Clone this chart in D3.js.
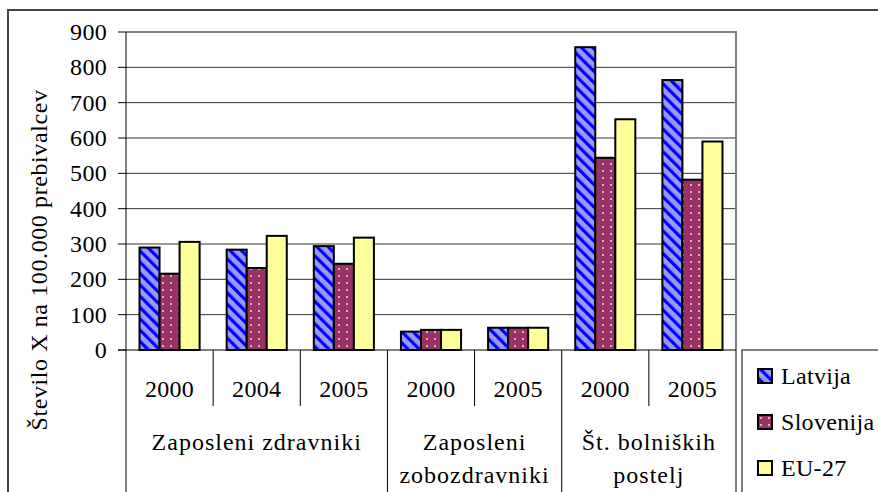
<!DOCTYPE html>
<html><head><meta charset="utf-8"><script src="https://cdn.jsdelivr.net/npm/d3@7"></script></head>
<body style="margin:0">
<script>
const years = ["2000", "2004", "2005", "2000", "2005", "2000", "2005"];
const groupNames = [["Zaposleni zdravniki"], ["Zaposleni", "zobozdravniki"], ["Št. bolniških", "postelj"]];
const groupSizes = [3, 2, 2];
const seriesNames = ["Latvija", "Slovenija", "EU-27"];
const latvija = [290, 284, 294, 52, 63, 857, 764];
const slovenija = [216, 232, 244, 57, 63, 544, 482];
const eu27 = [306, 323, 318, 57, 63, 653, 590];
const yTicks = [0, 100, 200, 300, 400, 500, 600, 700, 800, 900];

const width = 878, height = 492;
const plot = { left: 126, right: 736, top: 32, bottom: 350 };
const fontSize = 24;

const svg = d3.select("body").append("svg").attr("width", width).attr("height", height);

function label(sel, spacing = 0) {
  return sel
    .attr("font-size", fontSize)
    .attr("font-family", "Liberation Serif")
    .style("font-family", `'Liberation Serif'`)
    .attr("letter-spacing", spacing)
    .attr("fill", "#000");
}

// patterns
const defs = svg.append("defs");
const stripes = defs
  .append("pattern")
  .attr("id", "stripes")
  .attr("patternUnits", "userSpaceOnUse")
  .attr("width", 8)
  .attr("height", 8)
  .attr("patternTransform", "rotate(-45)");
stripes.append("rect").attr("width", 8).attr("height", 8).attr("fill", "#9999ff");
stripes.append("rect").attr("width", 3.2).attr("height", 8).attr("fill", "#0000ff");

const dots = defs
  .append("pattern")
  .attr("id", "dots")
  .attr("patternUnits", "userSpaceOnUse")
  .attr("width", 8)
  .attr("height", 7);
dots.append("rect").attr("width", 8).attr("height", 7).attr("fill", "#993366");
dots.append("circle").attr("cx", 3).attr("cy", 3).attr("r", 1).attr("fill", "#f2dbe6");

const fills = ["url(#stripes)", "url(#dots)", "#ffff99"];

// outer frame
svg
  .append("path")
  .attr("d", `M8,${height + 5}V10H${width + 5}`)
  .attr("fill", "none")
  .attr("stroke", "#444")
  .attr("stroke-width", 2);

const x = d3.scaleBand().domain(d3.range(years.length)).range([plot.left, plot.right]);
const xs = d3
  .scaleBand()
  .domain(seriesNames)
  .range([0, x.bandwidth()])
  .paddingInner(0)
  .paddingOuter(0.675);
const y = d3.scaleLinear().domain([0, 900]).range([plot.bottom, plot.top]);

// gridlines
svg
  .append("g")
  .selectAll("line")
  .data(yTicks.slice(1, -1))
  .join("line")
  .attr("x1", plot.left)
  .attr("x2", plot.right)
  .attr("y1", (d) => y(d))
  .attr("y2", (d) => y(d))
  .attr("stroke", "#333")
  .attr("stroke-width", 1);

// plot border top/right
svg
  .append("path")
  .attr("d", `M${plot.left},${y(900)}H${plot.right}V${height + 5}`)
  .attr("fill", "none")
  .attr("stroke", "#808080")
  .attr("stroke-width", 2);

// y axis ticks
svg
  .append("g")
  .selectAll("line")
  .data(yTicks)
  .join("line")
  .attr("x1", plot.left - 8)
  .attr("x2", plot.left)
  .attr("y1", (d) => y(d))
  .attr("y2", (d) => y(d))
  .attr("stroke", "#000");
svg
  .append("g")
  .selectAll("text")
  .data(yTicks)
  .join("text")
  .attr("x", plot.left - 19)
  .attr("y", (d) => y(d) + 8)
  .attr("text-anchor", "end")
  .call(label, 0.3)
  .text((d) => d);

svg
  .append("line")
  .attr("x1", plot.left)
  .attr("x2", plot.left)
  .attr("y1", plot.top)
  .attr("y2", height + 5)
  .attr("stroke", "#000");

// bars
const series = [latvija, slovenija, eu27];
series.forEach((vals, s) => {
  svg
    .append("g")
    .selectAll("rect")
    .data(vals)
    .join("rect")
    .attr("x", (d, i) => x(i) + xs(seriesNames[s]))
    .attr("y", (d) => y(d))
    .attr("width", xs.bandwidth())
    .attr("height", (d) => y(0) - y(d))
    .attr("fill", fills[s])
    .attr("stroke", "#000")
    .attr("stroke-width", 2);
});

// baseline
svg
  .append("line")
  .attr("x1", plot.left - 8)
  .attr("x2", plot.right)
  .attr("y1", y(0))
  .attr("y2", y(0))
  .attr("stroke", "#000");

// category separators
let starts = [0];
groupSizes.forEach((n, g) => starts.push(starts[g] + n));
d3.range(1, years.length).forEach((i) => {
  const isGroup = starts.includes(i);
  svg
    .append("line")
    .attr("x1", x(i))
    .attr("x2", x(i))
    .attr("y1", y(0))
    .attr("y2", isGroup ? height + 5 : 406)
    .attr("stroke", "#000");
});

// year labels
svg
  .append("g")
  .selectAll("text")
  .data(years)
  .join("text")
  .attr("x", (d, i) => x(i) + x.bandwidth() / 2)
  .attr("y", 397)
  .attr("text-anchor", "middle")
  .call(label, 0.3)
  .text((d) => d);

// group labels
groupNames.forEach((lines, g) => {
  const cx = (x(starts[g]) + x(starts[g + 1] - 1) + x.bandwidth()) / 2;
  lines.forEach((ln, k) => {
    svg
      .append("text")
      .attr("x", cx)
      .attr("y", 450 + k * 33)
      .attr("text-anchor", "middle")
      .call(label, 1)
      .text(ln);
  });
});

// y label
svg
  .append("text")
  .attr("transform", `translate(47,${(90 + 430) / 2}) rotate(-90)`)
  .attr("text-anchor", "middle")
  .call(label, 0.6)
  .text("Število X na 100.000 prebivalcev");

// legend
svg
  .append("rect")
  .attr("x", 742)
  .attr("y", 350)
  .attr("width", 200)
  .attr("height", 200)
  .attr("fill", "#fff")
  .attr("stroke", "#000");

const legend = svg
  .append("g")
  .selectAll("g")
  .data(seriesNames)
  .join("g")
  .attr("transform", (d, i) => `translate(758,${369 + i * 46})`);
legend
  .append("rect")
  .attr("width", 14)
  .attr("height", 14)
  .attr("fill", (d, i) => fills[i])
  .attr("stroke", "#000")
  .attr("stroke-width", 2);
legend
  .append("text")
  .attr("x", 23)
  .attr("y", 15)
  .call(label, 0.3)
  .text((d) => d);
</script>
</body>
</html>
